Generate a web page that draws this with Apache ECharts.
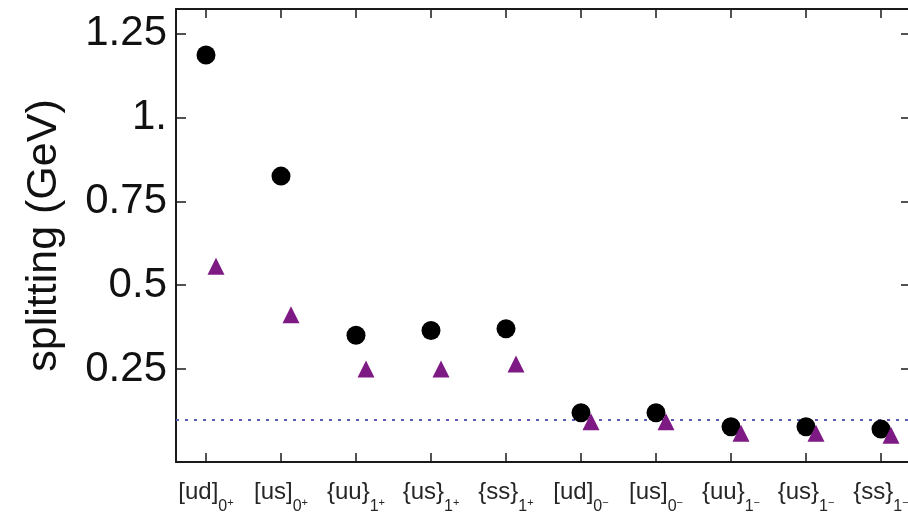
<!DOCTYPE html>
<html>
<head>
<meta charset="utf-8">
<script src="https://cdn.jsdelivr.net/npm/echarts@6/dist/echarts.min.js"></script>
<style>
html,body{margin:0;padding:0;background:#fff;}
#chart{width:908px;height:515px;}
</style>
</head>
<body>
<div id="chart"></div>
<script>
// ---- data ----
const diquarks   = ['[ud]', '[us]', '{uu}', '{us}', '{ss}', '[ud]', '[us]', '{uu}', '{us}', '{ss}'];
const spinLabels = ['0', '0', '1', '1', '1', '0', '0', '1', '1', '1'];
const parityLabels = ['+', '+', '+', '+', '+', '\u2212', '\u2212', '\u2212', '\u2212', '\u2212'];
const circleValues   = [1.186, 0.825, 0.351, 0.365, 0.370, 0.120, 0.120, 0.078, 0.078, 0.071];
const triangleValues = [0.556, 0.412, 0.250, 0.250, 0.265, 0.093, 0.093, 0.059, 0.059, 0.053];
const thresholdValue = 0.1;
const yTickValues = [0.25, 0.5, 0.75, 1, 1.25];
const yTickLabels = ['0.25', '0.5', '0.75', '1.', '1.25'];
const yAxisName = 'splitting (GeV)';

const xPositions = diquarks.map((d, i) => i + 1);
const circleData = circleValues.map((v, i) => [xPositions[i], v]);
const triangleData = triangleValues.map((v, i) => [xPositions[i], v]);

const FONT = 'Liberation Sans, Arial, sans-serif';
const axisColor = '#1a1a1a';
const labelColor = '#262626';

const chart = echarts.init(document.getElementById('chart'), null, {renderer: 'canvas'});

const xCommon = {
  type: 'value',
  min: 0.6,
  max: 10.4,
  splitLine: {show: false},
  axisLine: {show: true, onZero: false, lineStyle: {color: axisColor, width: 2}},
  axisTick: {show: true, inside: true, length: 9, customValues: xPositions, lineStyle: {color: axisColor, width: 1.5}}
};

const option = {
  backgroundColor: '#ffffff',
  animation: false,
  grid: {left: 176, top: 9, width: 735, height: 453, containLabel: false, outerBoundsMode: 'none'},
  xAxis: [
    Object.assign({}, xCommon, {
      position: 'bottom',
      axisLabel: {
        show: true,
        customValues: xPositions,
        margin: 18,
        fontFamily: FONT,
        fontSize: 24,
        lineHeight: 24,
        color: labelColor,
        verticalAlign: 'top',
        formatter: function (v) {
          const i = Math.round(v) - 1;
          return diquarks[i] + '{s|' + spinLabels[i] + '}{p|' + parityLabels[i] + '}';
        },
        rich: {
          s: {fontFamily: FONT, fontSize: 16, lineHeight: 16, color: labelColor, verticalAlign: 'top', padding: [19, 0, 0, 0]},
          p: {fontFamily: FONT, fontSize: 11, lineHeight: 11, color: labelColor, verticalAlign: 'top', padding: [17, 0, 0, 0]}
        }
      }
    }),
    Object.assign({}, xCommon, {
      position: 'top',
      axisLabel: {show: false}
    })
  ],
  yAxis: [
    {
      type: 'value',
      position: 'left',
      min: -0.027,
      max: 1.323,
      splitLine: {show: false},
      axisLine: {show: true, onZero: false, lineStyle: {color: axisColor, width: 2}},
      axisTick: {show: true, inside: true, length: 10, customValues: yTickValues, lineStyle: {color: axisColor, width: 1.5}},
      axisLabel: {
        show: true,
        customValues: yTickValues,
        margin: 9,
        fontFamily: FONT,
        fontSize: 42,
        color: '#111',
        formatter: function (v) {
          const i = yTickValues.findIndex(t => Math.abs(t - v) < 1e-9);
          return i >= 0 ? yTickLabels[i] : '';
        }
      },
      name: yAxisName,
      nameLocation: 'middle',
      nameGap: 110,
      nameTextStyle: {fontFamily: FONT, fontSize: 43, color: '#111'}
    },
    {
      type: 'value',
      position: 'right',
      min: -0.027,
      max: 1.323,
      splitLine: {show: false},
      axisLine: {show: true, onZero: false, lineStyle: {color: axisColor, width: 2}},
      axisTick: {show: true, inside: true, length: 10, customValues: yTickValues, lineStyle: {color: axisColor, width: 1.5}},
      axisLabel: {show: false}
    }
  ],
  series: [
    {
      name: 'model',
      type: 'scatter',
      symbol: 'circle',
      symbolSize: 19,
      z: 3,
      itemStyle: {color: '#000000', opacity: 1},
      emphasis: {disabled: true},
      data: circleData,
      markLine: {
        z: 1,
        silent: true,
        symbol: ['none', 'none'],
        label: {show: false},
        lineStyle: {type: [3, 6], color: '#5C5CB8', width: 2},
        data: [{yAxis: thresholdValue}]
      }
    },
    {
      name: 'lattice',
      type: 'scatter',
      symbol: 'triangle',
      symbolSize: [17, 17],
      symbolOffset: [10, 0],
      z: 4,
      itemStyle: {color: '#7E1A84', opacity: 1},
      emphasis: {disabled: true},
      data: triangleData
    }
  ]
};

chart.setOption(option);
</script>
</body>
</html>
